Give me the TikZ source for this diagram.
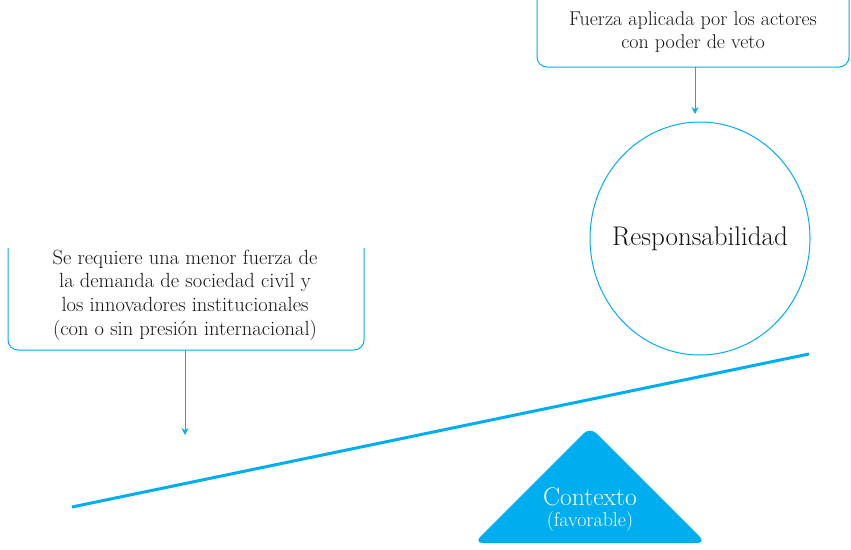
\documentclass[tikz,border=0pt]{standalone}
\usepackage{fontspec}
\usetikzlibrary{shapes.geometric,arrows.meta}
\begin{document}
\begin{tikzpicture}[x=1pt,y=-1pt]
\definecolor{cy}{HTML}{00AEEF}
\useasboundingbox (0,0) rectangle (851,549);
\tikzset{
  bracket/.style={draw=cy, line width=1pt, rounded corners=10pt},
  arr/.style={draw=cy, line width=1pt, -{Stealth[length=7pt,width=7pt]}},
  lbl/.style={align=center, font=\fontsize{20}{23.7}\selectfont, inner sep=0pt, text=black!92},
}
% top box
\draw[bracket] (537,0) -- (537,67) -- (849,67) -- (849,0);
\node[lbl] (t1) at (693,32) {Fuerza aplicada por los actores\\con poder de veto};
\coordinate (t1b) at (695,67);
% circle
\node[ellipse, draw=cy, line width=1pt, minimum width=220pt, minimum height=233pt, inner sep=0pt] (resp) at (700,238.5) {};
\node[lbl, font=\fontsize{27}{30}\selectfont] (resptxt) at (resp.center) {Responsabilidad};
\coordinate (t1e) at (695,114);
\draw[arr] (t1b) -- (t1e);
% left box
\draw[bracket] (8,248) -- (8,350) -- (364,350) -- (364,248);
\node[lbl, font=\fontsize{20.5}{23.7}\selectfont] (t2) at (185,295) {Se requiere una menor fuerza de\\la demanda de sociedad civil y\\los innovadores institucionales\\(con o sin presión internacional)};
\coordinate (t2b) at (185,350);
\coordinate (t2e) at (185,435);
\draw[arr] (t2b) -- (t2e);
% beam
\coordinate (bl) at (72,507);
\coordinate (br) at (809,354);
\draw[cy, line width=3pt] (bl) -- (br);
% fulcrum
\fill[cy, rounded corners=9pt] (474,543) -- (590,427) -- (706,543) -- cycle;
\node[text=white, font=\fontsize{25.5}{28}\selectfont, inner sep=0pt] (ctx) at (590,497) {Contexto};
\node[text=white, font=\fontsize{20}{22}\selectfont, inner sep=0pt] (fav) at (590,522) {(favorable)};
\end{tikzpicture}
\end{document}
